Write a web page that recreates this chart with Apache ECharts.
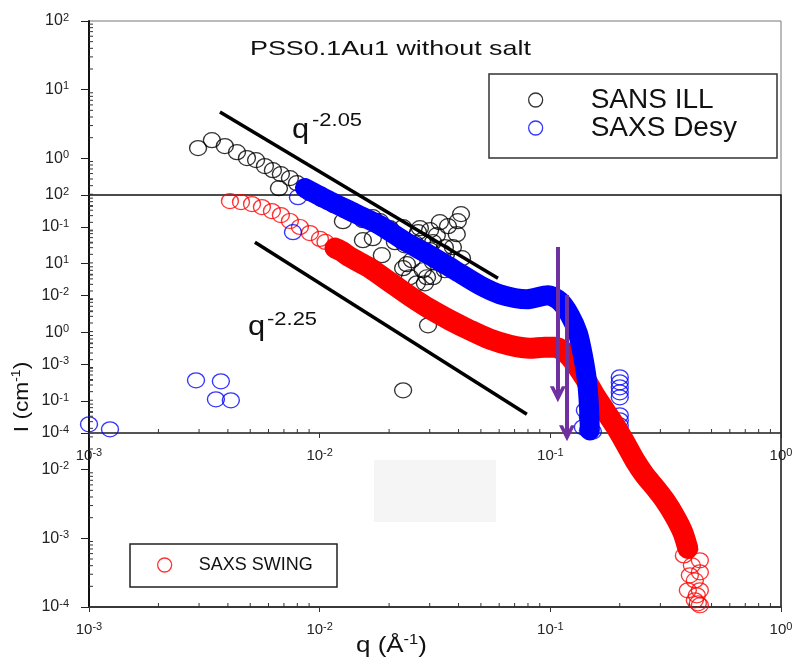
<!DOCTYPE html>
<html><head><meta charset="utf-8">
<script src="https://cdn.jsdelivr.net/npm/echarts@6/dist/echarts.min.js"></script>
<style>html,body{margin:0;padding:0;background:#fff}#c{width:797px;height:659px}</style>
</head><body><div id="c"></div>
<script>
// ---------- DATA ----------
// SANS ILL (upper chart)
const sansQ = [0.00297,0.00341,0.00388,0.00438,0.00484,0.00530,0.00579,0.00627,0.00679,0.00743,
  0.00666,0.00797,0.00907,0.01023,0.01153,0.01286,0.01261,0.0154,0.0170,0.01825,
  0.0154,0.0170,0.0186,0.02017,0.0212,0.0234,0.0230,0.0251,0.0267,0.0278,
  0.0292,0.0301,0.0310,0.0322,0.0332,0.0360,0.0397,0.0393,0.0349,0.0378,
  0.0414,0.0349,0.0301,0.0286,0.0230,0.0272,0.0259,0.0342,0.0310,0.0280,
  0.0310,0.0264,0.0239,0.0246,0.0254,0.0221,0.0295,0.0230,0.0410];
const sansI = [1.41,1.84,1.51,1.23,1.01,0.942,0.771,0.673,0.589,0.515,
  0.368,0.435,0.311,0.254,0.208,0.176,0.1215,0.1256,0.139,0.1215,
  0.0642,0.0687,0.0388,0.0961,0.0600,0.0542,0.0251,0.0328,0.0840,0.0642,
  0.01855,0.0459,0.0600,0.0759,0.1174,0.1027,0.1215,0.0785,0.0508,0.0508,
  0.0351,0.02345,0.0898,0.01515,0.0994,0.0961,0.0580,0.0429,0.0307,0.02345,
  0.01855,0.01515,0.0287,0.01855,0.00917,0.01198,0.0037,0.000418,0.154];
// SAXS Desy dense band (upper chart)
const desyQ = [0.00863,0.01108,0.01422,0.01825,0.0234,0.0301,0.0386,0.0495,0.0605,0.0791,
  0.0976,0.1100,0.1216,0.1317,0.1384,0.1441,0.1470,0.1484];
const desyI = [0.368,0.238,0.159,0.1061,0.0621,0.0388,0.02345,0.01416,0.01047,0.00886,
  0.01012,0.00829,0.00517,0.00283,0.00135,0.000585,0.000253,0.000109];
// SAXS Desy isolated points
const desyXQ = [0.00100,0.001233,0.00291,0.00373,0.00355,0.00412,0.00805,0.00766,
  0.200,0.200,0.200,0.200,0.200,0.200,0.200,0.200,0.200,
  0.1412,0.1455,0.1484,0.1455,0.1384,0.1529];
const desyXI = [0.000134,0.000113,0.000585,0.000566,0.000309,0.000299,0.272,0.0840,
  0.000647,0.000547,0.000463,0.000391,0.000331,0.000181,0.000153,0.000129,0.000109,
  0.000214,0.000169,0.000138,0.000109,0.000121,0.000105];
// SAXS SWING (lower chart)
const swingQ = [0.004083,0.00456,0.00509,0.00562,0.00621,0.00679,0.00743,0.00821,0.00907,0.01003,
  0.0106,0.01165,0.0124,0.01353,0.01652,0.02017,0.0246,0.0301,0.0367,0.0448,0.0547,0.0668,
  0.0816,0.0947,0.1047,0.1156,0.1278,0.1412,0.1560,0.1723,0.1904,0.2103,
  0.2324,0.2568,0.2837,0.3135,0.3464,0.3754,0.3946,0.4107,0.4231,0.4316,0.4360];
const swingI = [81.7,79.0,73.9,66.8,58.4,51.0,41.8,34.2,27.9,22.9,
  20.7,16.9,15.3,12.47,8.63,5.39,3.37,2.18,1.506,1.077,0.795,0.650,
  0.588,0.608,0.608,0.514,0.355,0.215,0.1214,0.0734,0.0443,0.0251,
  0.01371,0.00828,0.00554,0.00358,0.00209,0.00122,0.000714,0.000404,0.000244,0.000148,0.000113];
const swingTailQ = [0.3793,0.4449,0.4026,0.4449,0.3946,0.4231,0.4449,0.4449];
const swingTailI = [0.000564,0.000478,0.000289,0.000175,0.000175,0.000125,0.000106,0.00032];
// power-law guide lines (upper chart coordinates)
const fit205Q = [0.003696,0.0593], fit205I = [4.72,0.0179];
const fit225Q = [0.00524,0.0791], fit225I = [0.0600,0.000187];
// purple arrows (lower chart coordinates)
const arrowQ = [0.1078,0.1181], arrowTopI = [17.5,3.49], arrowEndI = [0.1255,0.0339];
// axis decades
const xDecades = [0.001,0.01,0.1];
const yDecades = [0.0001,0.001,0.01,0.1,1,10];
const minorMult = [2,3,4,5,6,7,8,9];

// ---------- BUILD ----------
const FONT = '"Liberation Sans", Arial, sans-serif';
const pairs = (xs, ys) => xs.map((x, i) => [x, ys[i]]);
const expFmt = v => '{b|10}{s|' + Math.round(Math.log10(v)) + '}';
const minorX = [], minorY = [];
xDecades.forEach(d => minorMult.forEach(m => minorX.push([m * d, 0.0001])));
yDecades.forEach(d => minorMult.forEach(m => minorY.push([0.001, m * d])));

function xAx(gi, margin) {
  return {type:'log', logBase:10, gridIndex:gi, min:0.001, max:1,
    axisLine:{show:true, lineStyle:{color:'#333', width:1.5}},
    axisTick:{show:true, inside:false, length:5, lineStyle:{color:'#333', width:1}},
    splitLine:{show:false},
    axisLabel:{margin:margin, formatter:expFmt, rich:{
      b:{fontSize:15, fontFamily:FONT, color:'#222', lineHeight:17},
      s:{fontSize:11, fontFamily:FONT, color:'#222', verticalAlign:'top', lineHeight:13}}}};
}
function yAx(gi) {
  return {type:'log', logBase:10, gridIndex:gi, min:0.0001, max:100,
    axisLine:{show:true, lineStyle:{color:'#111', width:2}},
    axisTick:{show:true, inside:false, length:8, lineStyle:{color:'#222', width:1}},
    splitLine:{show:false},
    axisLabel:{margin:20, formatter:expFmt, rich:{
      b:{fontSize:16, fontFamily:FONT, color:'#222', lineHeight:18},
      s:{fontSize:11, fontFamily:FONT, color:'#222', verticalAlign:'top', lineHeight:13}}}};
}
function minorSeries(gi, data, vertical) {
  return {type:'custom', xAxisIndex:gi, yAxisIndex:gi, silent:true, data:data, z:3,
    renderItem:(p, api) => {
      const c = api.coord([api.value(0), api.value(1)]);
      return {type:'line', shape: vertical ? {x1:c[0], y1:c[1], x2:c[0], y2:c[1]-4}
                                           : {x1:c[0], y1:c[1], x2:c[0]+4, y2:c[1]},
        style:{stroke:'#333', lineWidth:1}};
    }};
}
const ring = c => ({color:'rgba(0,0,0,0)', borderColor:c, borderWidth:1.3});
const ARROW = 'path://M8,0 L16,15 L12,15 L8,7.5 L4,15 L0,15 Z';

const option = {
  backgroundColor:'#fff',
  animation:false,
  grid:[
    {left:89, top:21, width:692, height:412, show:true, borderColor:'#777', borderWidth:1, backgroundColor:'transparent'},
    {left:89, top:195, width:692, height:412, show:true, borderColor:'#111', borderWidth:1.5, backgroundColor:'transparent'}
  ],
  xAxis:[xAx(0, 14), xAx(1, 14)],
  yAxis:[yAx(0), yAx(1)],
  legend:[
    {data:['SANS ILL','SAXS Desy'], orient:'vertical', left:528, top:86, padding:0, itemGap:0,
     itemWidth:18, itemHeight:14, symbolKeepAspect:false, icon:'circle', selectedMode:false,
     itemStyle:{color:'rgba(0,0,0,0)', borderWidth:1.3},
     formatter:n => '{t|' + n + '}',
     textStyle:{color:'#111', fontFamily:FONT, fontSize:28,
       rich:{t:{fontSize:28, fontFamily:FONT, lineHeight:30, padding:[0,0,0,41], color:'#111'}}}},
    {data:['SAXS SWING'], orient:'vertical', left:157, top:556, padding:0, itemGap:0,
     itemWidth:18, itemHeight:14, symbolKeepAspect:false, icon:'circle', selectedMode:false,
     itemStyle:{color:'rgba(0,0,0,0)', borderWidth:1.3},
     formatter:n => '{t|' + n + '}',
     textStyle:{color:'#111', fontFamily:FONT, fontSize:18,
       rich:{t:{fontSize:18, fontFamily:FONT, lineHeight:20, padding:[0,0,0,20], color:'#111'}}}}
  ],
  graphic:[
    {type:'rect', shape:{x:374, y:460, width:122, height:62}, style:{fill:'#f5f5f5'}, z:-5},
    {type:'rect', shape:{x:489, y:74, width:288, height:84}, style:{fill:'none', stroke:'#333', lineWidth:1.5}},
    {type:'rect', shape:{x:130, y:544, width:207, height:43}, style:{fill:'none', stroke:'#222', lineWidth:1.5}},
    {type:'text', x:250, y:49, scaleX:1.28, style:{text:'PSS0.1Au1 without salt', fontSize:21, fontFamily:FONT, fill:'#111',
      align:'left', textAlign:'left', verticalAlign:'middle', textVerticalAlign:'middle'}},
    {type:'text', x:292, y:130, scaleX:1.1, style:{text:'q', fontSize:28, fontFamily:FONT, fill:'#111',
      align:'left', textAlign:'left', verticalAlign:'middle', textVerticalAlign:'middle'}},
    {type:'text', x:312, y:121, scaleX:1.22, style:{text:'-2.05', fontSize:18, fontFamily:FONT, fill:'#111',
      align:'left', textAlign:'left', verticalAlign:'middle', textVerticalAlign:'middle'}},
    {type:'text', x:248, y:327, scaleX:1.1, style:{text:'q', fontSize:28, fontFamily:FONT, fill:'#111',
      align:'left', textAlign:'left', verticalAlign:'middle', textVerticalAlign:'middle'}},
    {type:'text', x:267, y:320, scaleX:1.22, style:{text:'-2.25', fontSize:18, fontFamily:FONT, fill:'#111',
      align:'left', textAlign:'left', verticalAlign:'middle', textVerticalAlign:'middle'}},
    {type:'text', x:356, y:646, scaleX:1.18, style:{text:'{a|q (Å}{s|-1}{a|)}', fill:'#111',
      align:'left', textAlign:'left', verticalAlign:'middle', textVerticalAlign:'middle',
      rich:{a:{fontSize:22, fontFamily:FONT, fill:'#111', lineHeight:26},
            s:{fontSize:14, fontFamily:FONT, fill:'#111', verticalAlign:'top', lineHeight:16}}}},
    {type:'text', x:22, y:397, rotation:Math.PI/2, scaleX:1.08, style:{text:'{a|I (cm}{s|-1}{a|)}', fill:'#111',
      align:'center', textAlign:'center', verticalAlign:'middle', textVerticalAlign:'middle',
      rich:{a:{fontSize:21, fontFamily:FONT, fill:'#111', lineHeight:25},
            s:{fontSize:13, fontFamily:FONT, fill:'#111', verticalAlign:'top', lineHeight:15}}}}
  ],
  series:[
    {name:'SAXS SWING band', type:'line', xAxisIndex:1, yAxisIndex:1, silent:true, symbol:'none', smooth:0.25,
     data:pairs(swingQ.slice(11,39), swingI.slice(11,39)),
     lineStyle:{color:'#ff0000', width:21, cap:'round', join:'round'}},
    {name:'SAXS SWING', type:'scatter', xAxisIndex:1, yAxisIndex:1, silent:true, symbol:'circle', symbolSize:[17,15],
     data:pairs(swingQ, swingI).concat(pairs(swingTailQ, swingTailI)), itemStyle:ring('#ff0000')},
    {name:'SANS ILL', type:'scatter', xAxisIndex:0, yAxisIndex:0, silent:true, symbol:'circle', symbolSize:[17,15],
     data:pairs(sansQ, sansI), itemStyle:ring('#000000')},
    {name:'SAXS Desy band', type:'line', xAxisIndex:0, yAxisIndex:0, silent:true, symbol:'none', smooth:0.25,
     data:pairs(desyQ, desyI), lineStyle:{color:'#0000ff', width:20, cap:'round', join:'round'}},
    {name:'SAXS Desy', type:'scatter', xAxisIndex:0, yAxisIndex:0, silent:true, symbol:'circle', symbolSize:[17,15],
     data:pairs(desyQ, desyI).concat(pairs(desyXQ, desyXI)), itemStyle:ring('#0000ff')},
    {name:'fit 2.05', type:'line', xAxisIndex:0, yAxisIndex:0, silent:true, symbol:'none',
     data:pairs(fit205Q, fit205I), lineStyle:{color:'#000', width:3.5}},
    {name:'fit 2.25', type:'line', xAxisIndex:0, yAxisIndex:0, silent:true, symbol:'none',
     data:pairs(fit225Q, fit225I), lineStyle:{color:'#000', width:3.5}},
    {name:'arrows', type:'line', xAxisIndex:1, yAxisIndex:1, silent:true, symbol:'none',
     data:pairs(arrowQ, arrowTopI), lineStyle:{opacity:0},
     markLine:{silent:true, symbol:['none', ARROW], symbolSize:[16,16], animation:false,
       label:{show:false}, lineStyle:{color:'#7030A0', width:4, type:'solid'},
       emphasis:{disabled:true},
       data:arrowQ.map((q, i) => [{coord:[q, arrowTopI[i]]}, {coord:[q, arrowEndI[i]]}])}},
    minorSeries(0, minorX, true), minorSeries(0, minorY, false),
    minorSeries(1, minorX, true), minorSeries(1, minorY, false)
  ]
};
const chart = echarts.init(document.getElementById('c'));
chart.setOption(option);
</script></body></html>
